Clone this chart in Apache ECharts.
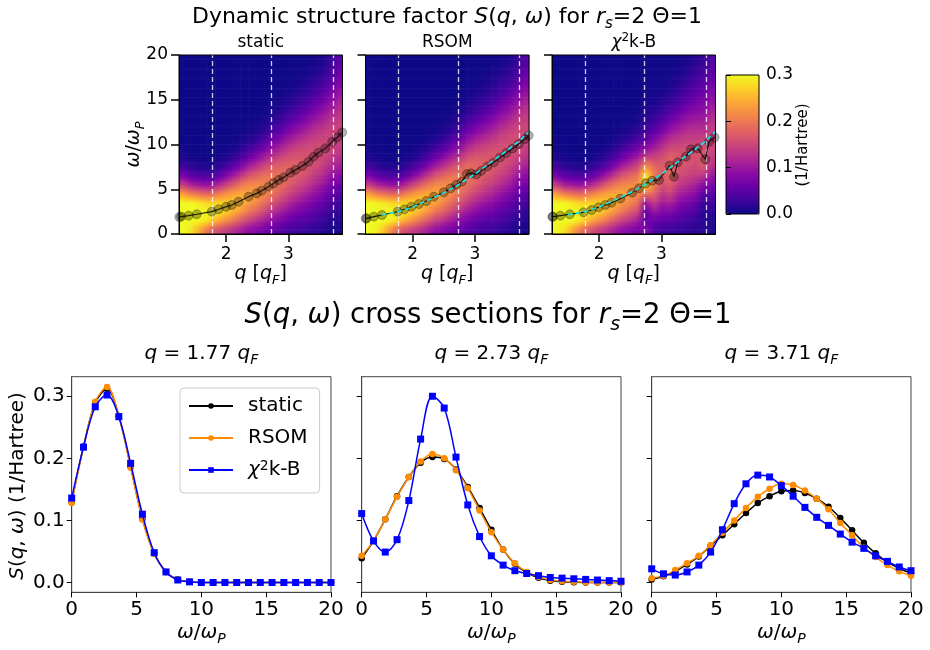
<!DOCTYPE html>
<html><head><meta charset="utf-8">
<script src="https://cdn.jsdelivr.net/npm/echarts@6/dist/echarts.min.js"></script>
<style>html,body{margin:0;padding:0;background:#fff}#c{width:930px;height:650px}</style>
</head><body><div id="c"></div><script>
// ---------------- DATA ----------------
// cross-section q values (dashed lines on heat maps, titles of lower panels)
const crossQ = [1.77, 2.73, 3.71];
// frequency grid of the cross sections (omega / omega_P)
const omega = [0, 0.909, 1.818, 2.727, 3.636, 4.545, 5.455, 6.364, 7.273, 8.182, 9.091, 10, 10.909, 11.818, 12.727, 13.636, 14.545, 15.455, 16.364, 17.273, 18.182, 19.091, 20];
// q = 1.77
const static177 = [0.130, 0.219, 0.289, 0.312, 0.268, 0.187, 0.103, 0.047, 0.017, 0.005, 0.001, 0, 0, 0, 0, 0, 0, 0, 0, 0, 0, 0, 0];
const rsom177   = [0.128, 0.218, 0.291, 0.315, 0.267, 0.185, 0.101, 0.046, 0.017, 0.005, 0.001, 0, 0, 0, 0, 0, 0, 0, 0, 0, 0, 0, 0];
const chi177    = [0.136, 0.218, 0.283, 0.302, 0.267, 0.192, 0.110, 0.048, 0.017, 0.004, 0.001, 0, 0, 0, 0, 0, 0, 0, 0, 0, 0, 0, 0];
// q = 2.73
const static273 = [0.039, 0.067, 0.102, 0.139, 0.170, 0.193, 0.202, 0.199, 0.182, 0.154, 0.120, 0.085, 0.053, 0.030, 0.016, 0.0075, 0.003, 0.001, 0.0005, 0, 0, 0, 0];
const rsom273   = [0.043, 0.067, 0.102, 0.138, 0.170, 0.195, 0.207, 0.200, 0.181, 0.152, 0.116, 0.081, 0.053, 0.031, 0.017, 0.009, 0.004, 0.002, 0.001, 0.0005, 0, 0, 0];
const chi273    = [0.111, 0.067, 0.049, 0.069, 0.132, 0.231, 0.300, 0.281, 0.202, 0.125, 0.074, 0.043, 0.028, 0.019, 0.0145, 0.011, 0.008, 0.007, 0.006, 0.005, 0.004, 0.003, 0.002];
// q = 3.71
const static371 = [0.005, 0.010, 0.018, 0.029, 0.042, 0.059, 0.076, 0.094, 0.112, 0.128, 0.139, 0.147, 0.148, 0.144, 0.135, 0.122, 0.104, 0.084, 0.064, 0.047, 0.033, 0.023, 0.015];
const rsom371   = [0.007, 0.011, 0.020, 0.031, 0.043, 0.060, 0.080, 0.100, 0.120, 0.138, 0.151, 0.159, 0.157, 0.148, 0.135, 0.118, 0.096, 0.076, 0.056, 0.041, 0.028, 0.018, 0.011];
const chi371    = [0.022, 0.014, 0.012, 0.017, 0.028, 0.049, 0.085, 0.127, 0.159, 0.173, 0.170, 0.156, 0.139, 0.121, 0.105, 0.092, 0.078, 0.065, 0.055, 0.043, 0.034, 0.025, 0.019];

// heat-map samples: q column centres and omega row centres
const qCells = [1.31, 1.44, 1.57, 1.70, 1.83, 1.97, 2.10, 2.23, 2.36, 2.49, 2.62, 2.75, 2.88, 3.01, 3.14, 3.28, 3.41, 3.54, 3.67, 3.80];
const wCells = [0.5, 1.5, 2.5, 3.5, 4.5, 5.5, 6.5, 7.5, 8.5, 9.5, 10.5, 11.5, 12.5, 13.5, 14.5, 15.5, 16.5, 17.5, 18.5, 19.5];
// S(q,w) estimated from the images; one row per q column, values from w=0.5 to 19.5
const heatStatic = [
 [0.300,0.300,0.300,0.300,0.234,0.142,0.073,0.032,0.012,0.004,0.001,0,0,0,0,0,0,0,0,0],
 [0.285,0.300,0.300,0.300,0.205,0.113,0.051,0.019,0.006,0.001,0,0,0,0,0,0,0,0,0,0],
 [0.242,0.300,0.300,0.288,0.192,0.102,0.043,0.014,0.004,0.001,0,0,0,0,0,0,0,0,0,0],
 [0.195,0.284,0.300,0.274,0.181,0.092,0.036,0.011,0.003,0,0,0,0,0,0,0,0,0,0,0],
 [0.163,0.251,0.299,0.275,0.196,0.108,0.046,0.015,0.004,0.001,0,0,0,0,0,0,0,0,0,0],
 [0.143,0.222,0.276,0.275,0.219,0.140,0.072,0.029,0.010,0.003,0.001,0,0,0,0,0,0,0,0,0],
 [0.127,0.197,0.252,0.267,0.234,0.169,0.101,0.050,0.020,0.007,0.002,0,0,0,0,0,0,0,0,0],
 [0.108,0.169,0.225,0.253,0.242,0.196,0.134,0.078,0.039,0.016,0.006,0.002,0,0,0,0,0,0,0,0],
 [0.090,0.142,0.196,0.233,0.240,0.213,0.165,0.110,0.064,0.032,0.014,0.005,0.002,0,0,0,0,0,0,0],
 [0.080,0.126,0.174,0.213,0.229,0.217,0.181,0.133,0.086,0.049,0.024,0.011,0.004,0.001,0,0,0,0,0,0],
 [0.066,0.104,0.148,0.188,0.213,0.215,0.194,0.156,0.113,0.073,0.042,0.021,0.010,0.004,0.001,0,0,0,0,0],
 [0.054,0.086,0.123,0.161,0.190,0.203,0.196,0.173,0.137,0.099,0.065,0.038,0.021,0.010,0.004,0.002,0.001,0,0,0],
 [0.045,0.072,0.104,0.139,0.169,0.188,0.191,0.178,0.152,0.118,0.084,0.055,0.033,0.018,0.009,0.004,0.002,0.001,0,0],
 [0.036,0.058,0.086,0.117,0.147,0.170,0.182,0.180,0.164,0.137,0.107,0.076,0.050,0.031,0.017,0.009,0.004,0.002,0.001,0],
 [0.031,0.049,0.073,0.100,0.129,0.153,0.170,0.175,0.167,0.149,0.123,0.095,0.068,0.045,0.028,0.016,0.008,0.004,0.002,0.001],
 [0.026,0.042,0.062,0.087,0.113,0.137,0.157,0.167,0.166,0.155,0.135,0.110,0.084,0.060,0.040,0.025,0.015,0.008,0.004,0.002],
 [0.020,0.033,0.049,0.070,0.093,0.117,0.138,0.154,0.161,0.158,0.146,0.127,0.104,0.080,0.058,0.039,0.025,0.015,0.009,0.005],
 [0.016,0.026,0.040,0.058,0.078,0.101,0.122,0.140,0.152,0.155,0.150,0.136,0.117,0.095,0.073,0.053,0.036,0.023,0.014,0.008],
 [0.008,0.015,0.024,0.037,0.055,0.075,0.097,0.119,0.136,0.147,0.150,0.145,0.133,0.115,0.095,0.075,0.056,0.040,0.030,0.022],
 [0.007,0.012,0.020,0.030,0.045,0.063,0.083,0.103,0.122,0.136,0.144,0.144,0.139,0.128,0.115,0.098,0.081,0.066,0.055,0.045]
];
const heatRSOM = [
 [0.300,0.300,0.300,0.300,0.230,0.140,0.072,0.032,0.012,0.004,0.001,0,0,0,0,0,0,0,0,0],
 [0.290,0.300,0.300,0.295,0.203,0.112,0.051,0.019,0.006,0.001,0,0,0,0,0,0,0,0,0,0],
 [0.248,0.300,0.300,0.285,0.190,0.101,0.043,0.014,0.004,0.001,0,0,0,0,0,0,0,0,0,0],
 [0.198,0.286,0.300,0.272,0.180,0.092,0.036,0.011,0.003,0,0,0,0,0,0,0,0,0,0,0],
 [0.163,0.251,0.300,0.275,0.195,0.107,0.046,0.015,0.004,0.001,0,0,0,0,0,0,0,0,0,0],
 [0.143,0.222,0.276,0.276,0.220,0.140,0.072,0.029,0.010,0.003,0.001,0,0,0,0,0,0,0,0,0],
 [0.127,0.197,0.252,0.268,0.235,0.169,0.101,0.050,0.020,0.007,0.002,0,0,0,0,0,0,0,0,0],
 [0.108,0.169,0.225,0.253,0.243,0.197,0.134,0.078,0.039,0.016,0.006,0.002,0,0,0,0,0,0,0,0],
 [0.090,0.142,0.196,0.233,0.241,0.214,0.165,0.110,0.064,0.032,0.014,0.005,0.002,0,0,0,0,0,0,0],
 [0.080,0.126,0.174,0.213,0.230,0.218,0.181,0.133,0.086,0.049,0.024,0.011,0.004,0.001,0,0,0,0,0,0],
 [0.066,0.104,0.148,0.188,0.214,0.217,0.195,0.156,0.113,0.073,0.042,0.021,0.010,0.004,0.001,0,0,0,0,0],
 [0.057,0.087,0.123,0.161,0.191,0.206,0.198,0.173,0.136,0.097,0.063,0.037,0.021,0.011,0.005,0.002,0.001,0,0,0],
 [0.045,0.070,0.100,0.135,0.168,0.190,0.200,0.188,0.160,0.125,0.092,0.062,0.038,0.021,0.011,0.005,0.002,0.001,0,0],
 [0.036,0.056,0.083,0.114,0.145,0.170,0.185,0.183,0.168,0.142,0.112,0.081,0.054,0.033,0.019,0.010,0.005,0.002,0.001,0],
 [0.031,0.049,0.073,0.100,0.129,0.153,0.170,0.176,0.169,0.151,0.125,0.097,0.070,0.047,0.029,0.017,0.009,0.004,0.002,0.001],
 [0.026,0.042,0.062,0.087,0.113,0.137,0.158,0.169,0.168,0.157,0.137,0.112,0.086,0.062,0.041,0.026,0.016,0.009,0.005,0.002],
 [0.021,0.034,0.051,0.072,0.095,0.120,0.141,0.157,0.164,0.161,0.149,0.130,0.107,0.083,0.060,0.041,0.027,0.016,0.010,0.005],
 [0.016,0.027,0.042,0.060,0.081,0.105,0.127,0.145,0.157,0.160,0.155,0.141,0.121,0.098,0.076,0.055,0.038,0.025,0.016,0.009],
 [0.009,0.016,0.027,0.041,0.058,0.079,0.102,0.125,0.143,0.155,0.158,0.152,0.138,0.120,0.097,0.076,0.055,0.039,0.028,0.020],
 [0.008,0.013,0.022,0.033,0.048,0.066,0.087,0.108,0.127,0.141,0.150,0.151,0.145,0.133,0.118,0.100,0.082,0.066,0.054,0.044]
];
const heatChi2 = [
 [0.300,0.300,0.300,0.300,0.234,0.142,0.073,0.032,0.012,0.004,0.001,0,0,0,0,0,0,0,0,0],
 [0.285,0.300,0.300,0.300,0.205,0.113,0.051,0.019,0.006,0.001,0,0,0,0,0,0,0,0,0,0],
 [0.242,0.300,0.300,0.288,0.192,0.102,0.043,0.014,0.004,0.001,0,0,0,0,0,0,0,0,0,0],
 [0.198,0.282,0.300,0.272,0.183,0.095,0.037,0.011,0.003,0,0,0,0,0,0,0,0,0,0,0],
 [0.168,0.250,0.296,0.274,0.199,0.112,0.047,0.015,0.004,0.001,0,0,0,0,0,0,0,0,0,0],
 [0.143,0.222,0.276,0.275,0.219,0.140,0.072,0.029,0.010,0.003,0.001,0,0,0,0,0,0,0,0,0],
 [0.127,0.197,0.252,0.267,0.234,0.169,0.101,0.050,0.020,0.007,0.002,0,0,0,0,0,0,0,0,0],
 [0.108,0.169,0.225,0.253,0.242,0.196,0.134,0.078,0.039,0.016,0.006,0.002,0,0,0,0,0,0,0,0],
 [0.090,0.142,0.196,0.233,0.240,0.213,0.165,0.110,0.064,0.032,0.014,0.005,0.002,0,0,0,0,0,0,0],
 [0.080,0.126,0.174,0.213,0.229,0.217,0.181,0.133,0.086,0.049,0.024,0.011,0.004,0.001,0,0,0,0,0,0],
 [0.066,0.104,0.148,0.188,0.215,0.220,0.198,0.156,0.110,0.070,0.040,0.021,0.010,0.004,0.001,0,0,0,0,0],
 [0.085,0.056,0.058,0.100,0.190,0.285,0.290,0.225,0.150,0.092,0.056,0.034,0.022,0.015,0.011,0.008,0.006,0.005,0.004,0.003],
 [0.040,0.062,0.095,0.140,0.180,0.205,0.205,0.185,0.150,0.112,0.078,0.050,0.030,0.017,0.009,0.005,0.003,0.002,0.001,0.001],
 [0.032,0.050,0.076,0.105,0.135,0.158,0.170,0.170,0.158,0.133,0.104,0.074,0.049,0.030,0.017,0.009,0.005,0.003,0.002,0.001],
 [0.028,0.048,0.078,0.112,0.145,0.170,0.185,0.188,0.178,0.157,0.128,0.098,0.070,0.047,0.030,0.018,0.010,0.006,0.003,0.002],
 [0.024,0.038,0.058,0.083,0.110,0.135,0.155,0.165,0.165,0.155,0.136,0.112,0.087,0.063,0.043,0.028,0.017,0.010,0.006,0.003],
 [0.020,0.032,0.050,0.073,0.098,0.124,0.146,0.160,0.164,0.158,0.144,0.124,0.102,0.080,0.060,0.043,0.029,0.019,0.012,0.007],
 [0.017,0.025,0.040,0.060,0.085,0.112,0.136,0.152,0.158,0.154,0.143,0.127,0.109,0.090,0.072,0.056,0.042,0.030,0.021,0.014],
 [0.018,0.013,0.014,0.025,0.047,0.085,0.130,0.163,0.173,0.164,0.147,0.128,0.108,0.094,0.079,0.065,0.053,0.041,0.031,0.022],
 [0.010,0.012,0.018,0.030,0.048,0.072,0.098,0.122,0.138,0.146,0.146,0.140,0.128,0.114,0.099,0.084,0.069,0.056,0.048,0.042]
];
// peak positions (circles) of each method
const dispStaticQ = [1.25,1.28,1.40,1.53,1.77,1.88,2.00,2.09,2.20,2.36,2.49,2.57,2.68,2.76,2.84,2.92,3.03,3.11,3.22,3.32,3.40,3.48,3.59,3.70,3.78,3.86];
const dispStaticW = [1.90,1.94,2.05,2.20,2.50,2.76,3.05,3.24,3.61,4.17,4.54,4.84,5.29,5.66,6.03,6.33,6.85,7.15,7.60,8.08,8.64,9.09,9.57,10.30,10.80,11.35];
const dispRsomQ = [1.25,1.26,1.38,1.51,1.76,1.87,1.98,2.10,2.22,2.34,2.50,2.61,2.70,2.79,2.87,2.94,3.02,3.10,3.20,3.30,3.40,3.50,3.60,3.70,3.80,3.86];
const dispRsomW = [1.72,1.75,1.94,2.12,2.50,2.76,3.05,3.35,3.69,4.17,4.66,5.10,5.50,5.85,6.70,6.78,6.65,7.05,7.55,8.00,8.55,9.05,9.55,10.05,10.60,11.00];
const dispChiQ = [1.25,1.26,1.38,1.53,1.75,1.88,1.99,2.10,2.20,2.34,2.53,2.64,2.75,2.85,2.96,3.13,3.20,3.26,3.39,3.47,3.58,3.70,3.76,3.85];
const dispChiW = [1.92,1.94,2.05,2.20,2.42,2.68,2.98,3.24,3.50,3.95,4.62,5.10,5.66,5.95,6.03,7.65,6.40,8.00,8.64,9.46,9.57,8.35,10.30,10.80];
// reference dispersion (cyan dashed)
const refQ = [1.50,1.77,2.00,2.25,2.50,2.73,3.00,3.25,3.50,3.71,3.865];
const refW = [2.15,2.50,3.02,3.80,4.60,5.50,6.70,8.00,9.25,10.40,11.45];
// ticks
const qTicks = [2, 3];
const sTicks = [0, 0.1, 0.2, 0.3];
const panelNames = ['static', 'RSOM', '{i|χ}{sup|2}k-B'];
const legendNames = ['static', 'RSOM', 'χ²k-B'];

// ---------------- LAYOUT / STYLE ----------------
const FF = 'DejaVu Sans';
const QMIN = 1.245, QMAX = 3.865, WMIN = 0, WMAX = 20, SMAX = 0.3;
const heatLeft = [179, 365.5, 552], heatTop = 55, heatW = 163.5, heatH = 179;
const botLeft = [71.7, 361.7, 651.7], botTop = 376.7, botW = 259.3, botH = 215.6;
const plasma = ['#0d0887','#41049d','#6a00a8','#8f0da4','#b12a90','#cc4778','#e16462','#f2844b','#fca636','#fcce25','#f0f921'];
const plasmaRGB = plasma.map(h => [parseInt(h.slice(1, 3), 16), parseInt(h.slice(3, 5), 16), parseInt(h.slice(5, 7), 16)]);
function cmap(v) {
  const t = Math.max(0, Math.min(1, v / SMAX)) * 10;
  const i = Math.min(9, Math.floor(t)), f = t - i, a = plasmaRGB[i], b = plasmaRGB[i + 1];
  return 'rgb(' + [0, 1, 2].map(k => Math.round(a[k] + (b[k] - a[k]) * f)).join(',') + ')';
}

function rich(fs) {
  const s = Math.round(fs * 0.7);
  return {
    i: {fontStyle: 'italic', fontSize: fs, fontFamily: FF, fill: '#000', color: '#000'},
    sub: {fontSize: s, verticalAlign: 'bottom', fontFamily: FF, fill: '#000', color: '#000'},
    isub: {fontStyle: 'italic', fontSize: s, verticalAlign: 'bottom', fontFamily: FF, fill: '#000', color: '#000'},
    sup: {fontSize: s, verticalAlign: 'top', fontFamily: FF, fill: '#000', color: '#000'}
  };
}
function txt(x, y, text, fs, rot) {
  return {type: 'text', x: x, y: y, rotation: rot || 0, z: 100, silent: true,
    style: {text: text, fontSize: fs, fontFamily: FF, fill: '#000', align: 'center', verticalAlign: 'middle',
      textAlign: 'center', textVerticalAlign: 'middle', lineHeight: Math.round(fs * 1.35), rich: rich(fs)}};
}
function pairs(xs, ys) { return xs.map((x, i) => [x, ys[i]]); }

// shaded quads between sample centres (edge samples held to the panel border)
const qExt = [QMIN].concat(qCells, [QMAX]);
const wExt = [WMIN].concat(wCells, [WMAX]);
function quads(field) {
  const nq = field.length, nw = field[0].length;
  const val = (i, j) => field[Math.max(0, Math.min(nq - 1, i - 1))][Math.max(0, Math.min(nw - 1, j - 1))];
  const out = [];
  for (let i = 0; i < qExt.length - 1; i++) {
    for (let j = 0; j < wExt.length - 1; j++) {
      out.push([qExt[i], wExt[j], qExt[i + 1], wExt[j + 1], val(i, j), val(i + 1, j), val(i, j + 1), val(i + 1, j + 1)]);
    }
  }
  return out;
}
const STRIPS = 4;
function renderQuad(params, api) {
  const p0 = api.coord([api.value(0), api.value(1)]);
  const p1 = api.coord([api.value(2), api.value(3)]);
  const v00 = api.value(4), v10 = api.value(5), v01 = api.value(6), v11 = api.value(7);
  const x = p0[0], w = p1[0] - p0[0], yb = p0[1], h = (p0[1] - p1[1]) / STRIPS;
  const children = [];
  for (let s = 0; s < STRIPS; s++) {
    const t = (s + 0.5) / STRIPS;
    const vl = v00 + (v01 - v00) * t, vr = v10 + (v11 - v10) * t;
    children.push({type: 'rect', shape: {x: x - 0.3, y: yb - (s + 1) * h - 0.3, width: w + 0.6, height: h + 0.6},
      style: {fill: new echarts.graphic.LinearGradient(0, 0, 1, 0, [{offset: 0, color: cmap(vl)}, {offset: 1, color: cmap(vr)}])}});
  }
  return {type: 'group', children: children};
}

const grids = [], xAxes = [], yAxes = [], series = [];
const heats = [heatStatic, heatRSOM, heatChi2];
const dispQ = [dispStaticQ, dispRsomQ, dispChiQ], dispW = [dispStaticW, dispRsomW, dispChiW];
const heatSeriesIdx = [];

for (let p = 0; p < 3; p++) {
  const g = p;
  grids.push({left: heatLeft[p], top: heatTop, width: heatW, height: heatH, show: true, borderColor: '#000',
    borderWidth: 1, backgroundColor: 'transparent', z: 10, outerBoundsMode: 'none'});
  xAxes.push({type: 'value', gridIndex: g, min: QMIN, max: QMAX, z: 10,
    axisLine: {show: true, onZero: false, lineStyle: {color: '#000', width: 1}},
    axisTick: {show: true, length: 8, lineStyle: {color: '#000', width: 1.5}, customValues: qTicks},
    axisLabel: {show: true, customValues: qTicks, fontSize: 17, fontFamily: FF, color: '#000', margin: 12},
    splitLine: {show: false}});
  yAxes.push({type: 'value', gridIndex: g, min: WMIN, max: WMAX, interval: 5, z: 10,
    axisLine: {show: true, onZero: false, lineStyle: {color: '#000', width: 1}},
    axisTick: {show: true, length: 8, lineStyle: {color: '#000', width: 1.5}},
    axisLabel: {show: p === 0, fontSize: 17, fontFamily: FF, color: '#000', margin: 11},
    splitLine: {show: false}});
  heatSeriesIdx.push(series.length);
  series.push({type: 'custom', xAxisIndex: g, yAxisIndex: g, data: quads(heats[p]), renderItem: renderQuad,
    encode: {x: [0, 2], y: [1, 3]}, clip: true, silent: true, z: 1, progressive: 0});
  series.push({type: 'scatter', xAxisIndex: g, yAxisIndex: g, data: pairs(dispQ[p], dispW[p]), symbolSize: 9,
    silent: true, z: 5, itemStyle: {color: 'rgba(0,0,0,0.36)', borderColor: 'rgba(0,0,0,0.45)', borderWidth: 0.8},
    markLine: {symbol: 'none', silent: true, animation: false, label: {show: false},
      lineStyle: {color: 'rgba(255,255,255,0.8)', type: [5, 3], width: 1.3},
      data: crossQ.map(q => ({xAxis: q}))}});
  series.push({type: 'line', xAxisIndex: g, yAxisIndex: g, data: pairs(dispQ[p], dispW[p]), showSymbol: false,
    silent: true, z: 6, lineStyle: {color: '#000', width: 1.1, opacity: 0.85}});
  if (p > 0) {
    series.push({type: 'line', xAxisIndex: g, yAxisIndex: g, data: pairs(refQ, refW), showSymbol: false,
      silent: true, z: 7, lineStyle: {color: '#17e6ee', width: 1.7, type: [5, 3]}});
  }
}
// colorbar axis grid (3)
grids.push({left: 726, top: 75, width: 33, height: 139, show: true, borderColor: '#000', borderWidth: 1,
  backgroundColor: 'transparent', z: 10, outerBoundsMode: 'none'});
xAxes.push({type: 'value', gridIndex: 3, show: false, min: 0, max: 1});
yAxes.push({type: 'value', gridIndex: 3, position: 'right', min: 0, max: SMAX, interval: 0.1, z: 10,
  axisLine: {show: false}, axisTick: {show: true, length: 5, lineStyle: {color: '#000', width: 1}},
  axisLabel: {fontSize: 17, fontFamily: FF, color: '#000', margin: 7, formatter: v => v.toFixed(1)},
  splitLine: {show: false}});
// cross-section grids (4..6)
const crossSets = [[static177, rsom177, chi177], [static273, rsom273, chi273], [static371, rsom371, chi371]];
const colors = ['#000000', '#ff8c00', '#0000ff'];
const symbols = ['circle', 'circle', 'rect'];
for (let p = 0; p < 3; p++) {
  const g = 4 + p;
  grids.push({left: botLeft[p], top: botTop, width: botW, height: botH, show: true, borderColor: '#444',
    borderWidth: 1, backgroundColor: 'transparent', outerBoundsMode: 'none'});
  xAxes.push({type: 'value', gridIndex: g, min: 0, max: 20, interval: 5,
    axisLine: {show: true, onZero: false, lineStyle: {color: '#444', width: 1}},
    axisTick: {show: true, length: 5, lineStyle: {color: '#000', width: 1}},
    axisLabel: {fontSize: 20, fontFamily: FF, color: '#000', margin: 7},
    splitLine: {show: false}});
  yAxes.push({type: 'value', gridIndex: g, min: -0.0158, max: 0.3315,
    axisLine: {show: true, onZero: false, lineStyle: {color: '#444', width: 1}},
    axisTick: {show: true, length: 5, lineStyle: {color: '#000', width: 1}, customValues: sTicks},
    axisLabel: {show: p === 0, customValues: sTicks, fontSize: 20, fontFamily: FF, color: '#000', margin: 7,
      formatter: v => v.toFixed(1)},
    splitLine: {show: false}});
  for (let k = 0; k < 3; k++) {
    series.push({type: 'line', name: legendNames[k], xAxisIndex: g, yAxisIndex: g,
      data: pairs(omega, crossSets[p][k]), smooth: 0.35, symbol: symbols[k], symbolSize: k === 2 ? 7 : 6.5,
      showSymbol: true, silent: true, z: 3 + k, color: colors[k],
      itemStyle: {color: colors[k]}, lineStyle: {color: colors[k], width: 1.5}});
  }
}

const graphics = [
  txt(447, 17, 'Dynamic structure factor {i|S}({i|q}, {i|ω}) for {i|r}{isub|s}=2 Θ=1', 22),
  txt(heatLeft[0] + heatW / 2, 43, panelNames[0], 17),
  txt(heatLeft[1] + heatW / 2, 43, panelNames[1], 17),
  txt(heatLeft[2] + heatW / 2, 43, panelNames[2], 17),
  txt(134, heatTop + heatH / 2, '{i|ω}/{i|ω}{isub|P}', 19, Math.PI / 2),
  txt(heatLeft[0] + heatW / 2, 274, '{i|q} [{i|q}{isub|F}]', 19),
  txt(heatLeft[1] + heatW / 2, 274, '{i|q} [{i|q}{isub|F}]', 19),
  txt(heatLeft[2] + heatW / 2, 274, '{i|q} [{i|q}{isub|F}]', 19),
  txt(803, 145, '(1/Hartree)', 15, Math.PI / 2),
  txt(488, 316, '{i|S}({i|q}, {i|ω}) cross sections for {i|r}{isub|s}=2 Θ=1', 27.5),
  txt(18, 486, '{i|S}({i|q}, {i|ω}) (1/Hartree)', 20, Math.PI / 2)
];
for (let p = 0; p < 3; p++) {
  graphics.push(txt(botLeft[p] + botW / 2, 354, '{i|q} = ' + crossQ[p].toFixed(2) + ' {i|q}{isub|F}', 20));
  graphics.push(txt(botLeft[p] + botW / 2, 633, '{i|ω}/{i|ω}{isub|P}', 20));
}

const chart = echarts.init(document.getElementById('c'), null, {renderer: 'canvas'});
chart.setOption({
  animation: false,
  backgroundColor: '#fff',
  grid: grids, xAxis: xAxes, yAxis: yAxes, series: series,
  visualMap: {type: 'continuous', min: 0, max: SMAX, seriesIndex: heatSeriesIdx, dimension: 4, orient: 'vertical',
    left: 726, top: 75, itemWidth: 33, itemHeight: 139, padding: 0, calculable: false, hoverLink: false,
    text: null, show: true, inRange: {color: plasma}},
  legend: {data: legendNames, orient: 'vertical', left: 180, top: 388, itemWidth: 44, itemHeight: 7, itemGap: 10,
    padding: [7, 12, 12, 8], backgroundColor: 'rgba(255,255,255,0.85)', borderColor: '#cccccc', borderWidth: 1,
    borderRadius: 4, selectedMode: false,
    formatter: n => n === 'χ²k-B' ? '{i|χ}{sup|2}k-B' : n,
    textStyle: {fontSize: 20, fontFamily: FF, color: '#000', padding: [0, 0, 0, 10], lineHeight: 22, rich: rich(20)}},
  graphic: graphics
});
</script></body></html>
